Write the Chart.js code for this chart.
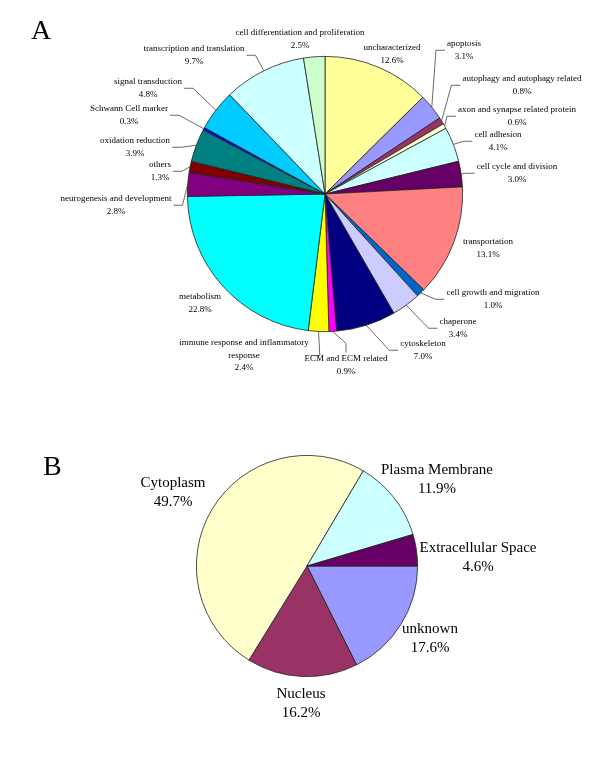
<!DOCTYPE html>
<html>
<head>
<meta charset="utf-8">
<script src="https://cdn.jsdelivr.net/npm/chart.js@4.4.0/dist/chart.umd.min.js"></script>
<style>
  body { margin: 0; background: #fff; }
  #wrap { position: relative; width: 600px; height: 761px; }
  #wrap canvas { position: absolute; left: 0; top: 0; }
  .tag { position: absolute; font-family: "Liberation Serif", serif; font-size: 28px; line-height: 1; }
</style>
</head>
<body>
<div id="wrap">
  <canvas id="chartA" width="600" height="761"></canvas>
  <canvas id="chartB" width="600" height="761"></canvas>
  <div class="tag" style="left:31px;top:16px;">A</div>
  <div class="tag" style="left:43px;top:452px;">B</div>
</div>
<script>
// panel A - functional categories
var catsA = [
  'uncharacterized', 'apoptosis', 'autophagy and autophagy related',
  'axon and synapse related protein', 'cell adhesion', 'cell cycle and division',
  'transportation', 'cell growth and migration', 'chaperone', 'cytoskeleton',
  'ECM and ECM related', 'immune response and inflammatory\nresponse', 'metabolism',
  'neurogenesis and development', 'others', 'oxidation reduction',
  'Schwann Cell marker', 'signal transduction', 'transcription and translation',
  'cell differentiation and proliferation'
];
var valsA = [12.6, 3.1, 0.8, 0.6, 4.1, 3.0, 13.1, 1.0, 3.4, 7.0,
             0.9, 2.4, 22.8, 2.8, 1.3, 3.9, 0.3, 4.8, 9.7, 2.5];
var colorsA = ['#FFFF99', '#9999FF', '#993366', '#FFFFCC', '#CCFFFF', '#660066',
               '#FF8080', '#0066CC', '#CCCCFF', '#000080', '#FF00FF', '#FFFF00',
               '#00FFFF', '#800080', '#800000', '#008080', '#0000FF', '#00CCFF',
               '#CCFFFF', '#CCFFCC'];
// label spots: [x, y of first line, side the leader line joins]
var labelPosA = [
  [392, 48, 'n'], [464, 44, 'l'], [522, 79, 'l'], [517, 110, 'l'], [498, 135, 'l'],
  [517, 167, 'l'], [488, 242, 'n'], [493, 293, 'l'], [458, 322, 'l'], [423, 344, 'l'],
  [346, 359, 't'], [244, 343, 'r'], [200, 297, 'n'], [116, 199, 'r'], [160, 165, 'r'],
  [135, 141, 'r'], [129, 109, 'r'], [148, 82, 'r'], [194, 49, 'r'], [300, 33, 'n']
];

// panel B - subcellular location
var catsB = ['unknown', 'Nucleus', 'Cytoplasm', 'Plasma Membrane', 'Extracellular Space'];
var valsB = [17.6, 16.2, 49.7, 11.9, 4.6];
var colorsB = ['#9999FF', '#993366', '#FFFFCC', '#CCFFFF', '#660066'];
var labelPosB = [[430, 629, 'n'], [301, 694, 'n'], [173, 483, 'n'], [437, 470, 'n'], [478, 548, 'n']];

function labelPlugin(cats, vals, pos, fontPx, lineH) {
  return {
    id: 'sliceLabels',
    afterDatasetsDraw: function(chart) {
      var ctx = chart.ctx;
      var arcs = chart.getDatasetMeta(0).data;
      ctx.save();
      ctx.font = fontPx + 'px "Liberation Serif", "Times New Roman", serif';
      ctx.fillStyle = '#000';
      ctx.textAlign = 'center';
      ctx.textBaseline = 'middle';
      arcs.forEach(function(arc, i) {
        var lines = cats[i].split('\n');
        lines.push(vals[i].toFixed(1) + '%');
        var p = pos[i];
        lines.forEach(function(t, k) { ctx.fillText(t, p[0], p[1] + k * lineH); });
        if (p[2] === 'n') return;
        var a = arc.getProps(['x', 'y', 'startAngle', 'endAngle', 'outerRadius'], true);
        var mid = (a.startAngle + a.endAngle) / 2;
        var sx = a.x + a.outerRadius * Math.cos(mid);
        var sy = a.y + a.outerRadius * Math.sin(mid);
        var w = 0;
        lines.forEach(function(t) { w = Math.max(w, ctx.measureText(t).width); });
        var cy = p[1] + (lines.length - 1) * lineH / 2;
        var ex, ey, bx, by;
        if (p[2] === 'l') { ex = p[0] - w / 2 - 2; ey = cy; bx = ex - 9; by = ey; }
        else if (p[2] === 'r') { ex = p[0] + w / 2 + 2; ey = cy; bx = ex + 9; by = ey; }
        else { ex = p[0]; ey = p[1] - fontPx / 2 - 2; bx = ex; by = ey - 9; }
        ctx.strokeStyle = '#444';
        ctx.lineWidth = 0.8;
        ctx.beginPath();
        ctx.moveTo(sx, sy);
        ctx.lineTo(bx, by);
        ctx.lineTo(ex, ey);
        ctx.stroke();
      });
      ctx.restore();
    }
  };
}

function pieConfig(cats, vals, colors, rotation, pad, plugin) {
  return {
    type: 'pie',
    data: {
      labels: cats,
      datasets: [{
        data: vals,
        backgroundColor: colors,
        borderColor: '#222',
        borderWidth: 0.8
      }]
    },
    options: {
      responsive: false,
      animation: false,
      rotation: rotation,
      layout: { padding: pad },
      plugins: { legend: { display: false }, tooltip: { enabled: false } }
    },
    plugins: [plugin]
  };
}

new Chart(document.getElementById('chartA').getContext('2d'),
  pieConfig(catsA, valsA, colorsA, 0, { left: 187, right: 137, top: 56, bottom: 429 },
    labelPlugin(catsA, valsA, labelPosA, 9, 12.5)));

new Chart(document.getElementById('chartB').getContext('2d'),
  pieConfig(catsB, valsB, colorsB, 90, { left: 196, right: 182, top: 455, bottom: 84 },
    labelPlugin(catsB, valsB, labelPosB, 15, 19)));
</script>
</body>
</html>
